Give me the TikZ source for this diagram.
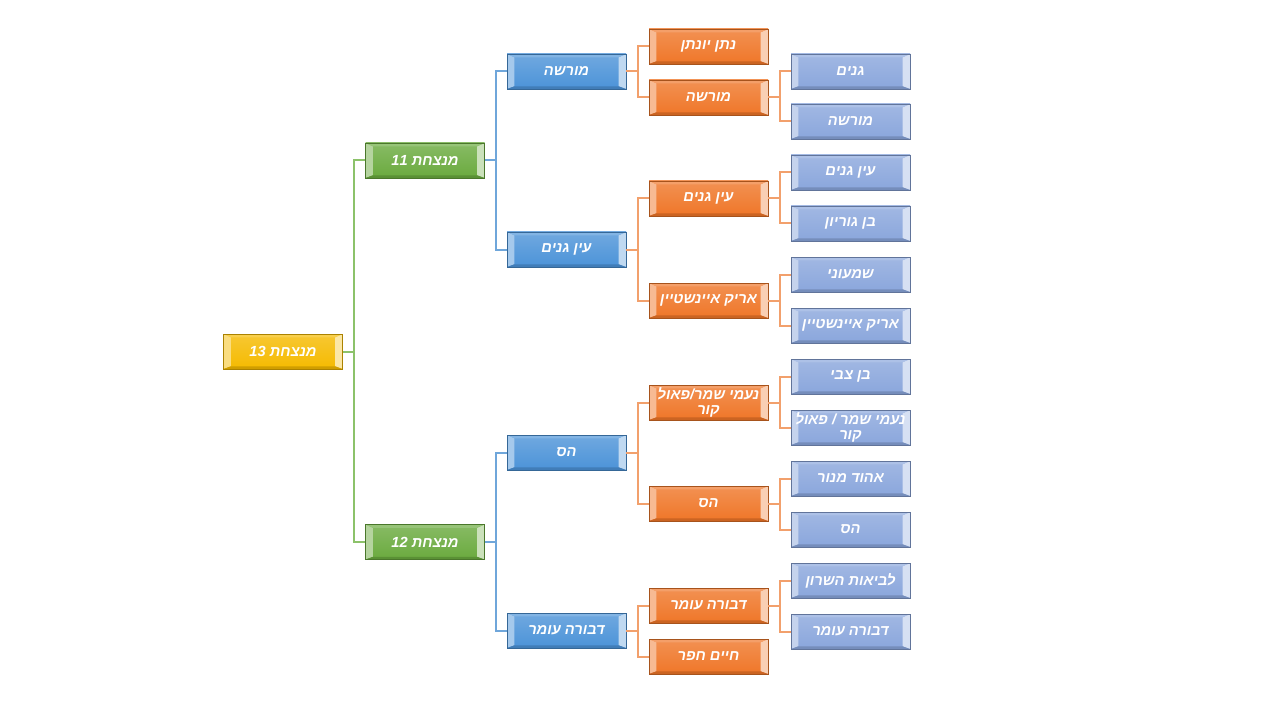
\documentclass[tikz,border=0pt]{standalone}
\usepackage{fontspec}
\newfontfamily\hebfont[Script=Hebrew]{Liberation Sans}
\TeXXeTstate=1
\newcommand{\heb}[1]{\beginR #1\endR}
\definecolor{goldbox}{HTML}{F5BA00}
\definecolor{greenbox}{HTML}{6AAA3E}
\definecolor{bluebox}{HTML}{4C93D8}
\definecolor{orangebox}{HTML}{EF7628}
\definecolor{lilabox}{HTML}{8AA6DC}
\definecolor{greenline}{HTML}{8CC26A}
\definecolor{blueline}{HTML}{6FA6DA}
\definecolor{orangeline}{HTML}{F2A06C}
\tikzset{
  box/.style={draw=#1!70!black, line width=0.6pt, top color=#1!80!white, bottom color=#1,
    minimum width=89.25pt, minimum height=26.25pt, inner sep=0pt, align=center,
    text=white, font=\hebfont\fontsize{11}{11.5}\selectfont\bfseries\itshape,
    path picture={
      \fill[#1!50!white] (path picture bounding box.north west) -- ++(5.5pt,-2.5pt)
        -- ([shift={(5.5pt,2pt)}]path picture bounding box.south west)
        -- (path picture bounding box.south west) -- cycle;
      \fill[#1!35!white] (path picture bounding box.north east) -- ++(-5.5pt,-2.5pt)
        -- ([shift={(-5.5pt,2pt)}]path picture bounding box.south east)
        -- (path picture bounding box.south east) -- cycle;
      \fill[#1!70!white] (path picture bounding box.north west) -- ++(5.5pt,-2.5pt)
        -- ([shift={(-5.5pt,-2.5pt)}]path picture bounding box.north east)
        -- (path picture bounding box.north east) -- cycle;
      \fill[#1!85!black] (path picture bounding box.south west) -- ++(5.5pt,2pt)
        -- ([shift={(-5.5pt,2pt)}]path picture bounding box.south east)
        -- (path picture bounding box.south east) -- cycle;
    }},
  link/.style={draw=#1, line width=1.5pt},
}
\begin{document}
\begin{tikzpicture}[x=0.75pt,y=-0.75pt]
\useasboundingbox (0,0) rectangle (1280,720);

\node[box=goldbox] (root) at (283,351.5) {\heb{מנצחת \beginL 13\endL}};

\node[box=greenbox] (g11) at (425,160.5) {\heb{מנצחת \beginL 11\endL}};
\node[box=greenbox] (g12) at (425,542)   {\heb{מנצחת \beginL 12\endL}};

\node[box=bluebox] (b1) at (566.5,71.5)  {\heb{מורשה}};
\node[box=bluebox] (b2) at (566.5,249.5) {\heb{עין גנים}};
\node[box=bluebox] (b3) at (566.5,452.5) {\heb{הס}};
\node[box=bluebox] (b4) at (566.5,630.5) {\heb{דבורה עומר}};

\node[box=orangebox] (o1) at (708.5,46.5)  {\heb{נתן יונתן}};
\node[box=orangebox] (o2) at (708.5,97.5)  {\heb{מורשה}};
\node[box=orangebox] (o3) at (708.5,198.5) {\heb{עין גנים}};
\node[box=orangebox] (o4) at (708.5,300.5) {\heb{אריק איינשטיין}};
\node[box=orangebox] (o5) at (708.5,402.5) {\heb{נעמי שמר/פאול}\\\heb{קור}};
\node[box=orangebox] (o6) at (708.5,503.5) {\heb{הס}};
\node[box=orangebox] (o7) at (708.5,605.5) {\heb{דבורה עומר}};
\node[box=orangebox] (o8) at (708.5,656.5) {\heb{חיים חפר}};

\node[box=lilabox] (l1)  at (850.5,71.5)  {\heb{גנים}};
\node[box=lilabox] (l2)  at (850.5,121.5) {\heb{מורשה}};
\node[box=lilabox] (l3)  at (850.5,172.5) {\heb{עין גנים}};
\node[box=lilabox] (l4)  at (850.5,223.5) {\heb{בן גוריון}};
\node[box=lilabox] (l5)  at (850.5,274.5) {\heb{שמעוני}};
\node[box=lilabox] (l6)  at (850.5,325.5) {\heb{אריק איינשטיין}};
\node[box=lilabox] (l7)  at (850.5,376.5) {\heb{בן צבי}};
\node[box=lilabox] (l8)  at (850.5,427.5) {\heb{נעמי שמר / פאול}\\\heb{קור}};
\node[box=lilabox] (l9)  at (850.5,478.5) {\heb{אהוד מנור}};
\node[box=lilabox] (l10) at (850.5,529.5) {\heb{הס}};
\node[box=lilabox] (l11) at (850.5,580.5) {\heb{לביאות השרון}};
\node[box=lilabox] (l12) at (850.5,631.5) {\heb{דבורה עומר}};

% root -> 11, 12
\draw[link=greenline] (root.east) -- ++(11,0) |- (g11.west);
\draw[link=greenline] (root.east) -- ++(11,0) |- (g12.west);
% 11, 12 -> schools
\draw[link=blueline] (g11.east) -- ++(11,0) |- (b1.west);
\draw[link=blueline] (g11.east) -- ++(11,0) |- (b2.west);
\draw[link=blueline] (g12.east) -- ++(11,0) |- (b3.west);
\draw[link=blueline] (g12.east) -- ++(11,0) |- (b4.west);
% schools -> 9
\draw[link=orangeline] (b1.east) -- ++(12,0) |- (o1.west);
\draw[link=orangeline] (b1.east) -- ++(12,0) |- (o2.west);
\draw[link=orangeline] (b2.east) -- ++(12,0) |- (o3.west);
\draw[link=orangeline] (b2.east) -- ++(12,0) |- (o4.west);
\draw[link=orangeline] (b3.east) -- ++(12,0) |- (o5.west);
\draw[link=orangeline] (b3.east) -- ++(12,0) |- (o6.west);
\draw[link=orangeline] (b4.east) -- ++(12,0) |- (o7.west);
\draw[link=orangeline] (b4.east) -- ++(12,0) |- (o8.west);
% 9 -> 7
\draw[link=orangeline] (o2.east) -- ++(12,0) |- (l1.west);
\draw[link=orangeline] (o2.east) -- ++(12,0) |- (l2.west);
\draw[link=orangeline] (o3.east) -- ++(12,0) |- (l3.west);
\draw[link=orangeline] (o3.east) -- ++(12,0) |- (l4.west);
\draw[link=orangeline] (o4.east) -- ++(12,0) |- (l5.west);
\draw[link=orangeline] (o4.east) -- ++(12,0) |- (l6.west);
\draw[link=orangeline] (o5.east) -- ++(12,0) |- (l7.west);
\draw[link=orangeline] (o5.east) -- ++(12,0) |- (l8.west);
\draw[link=orangeline] (o6.east) -- ++(12,0) |- (l9.west);
\draw[link=orangeline] (o6.east) -- ++(12,0) |- (l10.west);
\draw[link=orangeline] (o7.east) -- ++(12,0) |- (l11.west);
\draw[link=orangeline] (o7.east) -- ++(12,0) |- (l12.west);

\end{tikzpicture}
\end{document}
